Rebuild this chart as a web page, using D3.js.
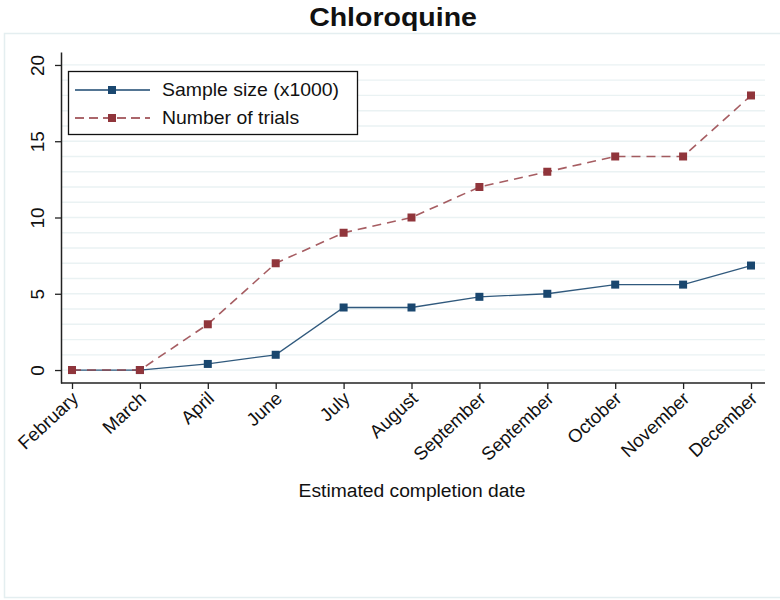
<!DOCTYPE html>
<html>
<head>
<meta charset="utf-8">
<script src="https://cdn.jsdelivr.net/npm/d3@7"></script>
<style>
  body { margin: 0; background: #fff; }
  text { font-family: "Liberation Sans", Arial, sans-serif; fill: #111; }
</style>
</head>
<body>
<div id="chart"></div>
<script>
// chart data
var months = ['February','March','April','June','July','August','September','September','October','November','December'];
var sampleSize = [0, 0, 0.4, 1.0, 4.1, 4.1, 4.8, 5.0, 5.6, 5.6, 6.85];
var numTrials = [0, 0, 3, 7, 9, 10, 12, 13, 14, 14, 18];
var yTicks = [0, 5, 10, 15, 20];
var yGrid = d3.range(0, 21);

var width = 780, height = 600;
var navy = '#1a476f', maroon = '#90353b';

var svg = d3.select('#chart').append('svg')
	.attr('width', width)
	.attr('height', height);

// graph region border
svg.append('rect')
	.attr('x', 4.5).attr('y', 33.5)
	.attr('width', 790).attr('height', 564)
	.attr('fill', 'none')
	.attr('stroke', '#e4eef0')
	.attr('stroke-width', 1.5);

// stretched text helper (the original looks slightly wide)
function wideText(x, y, str, size, sx, weight) {
	var g = svg.append('g').attr('transform', 'translate(' + x + ',' + y + ') scale(' + sx + ',1)');
	g.append('text')
		.attr('text-anchor', 'middle')
		.style('font-size', size + 'px')
		.style('font-weight', weight || 'normal')
		.text(str);
	return g;
}

wideText(393, 26, 'Chloroquine', 25, 1.14, 'bold');

var xScale = d3.scalePoint().domain(d3.range(months.length)).range([72, 751]);
var yScale = d3.scaleLinear().domain([-0.85, 20.85]).range([383, 52]);

// gridlines
svg.append('g').selectAll('line')
	.data(yGrid)
	.enter().append('line')
		.attr('x1', 62).attr('x2', 765)
		.attr('y1', function(d) { return yScale(d); })
		.attr('y2', function(d) { return yScale(d); })
		.attr('stroke', '#eaf2f3')
		.attr('stroke-width', 1.3);

// y axis
var yAxis = d3.axisLeft(yScale).tickValues(yTicks).tickSize(6).tickPadding(4).tickSizeOuter(0);
var gy = svg.append('g')
	.attr('transform', 'translate(61,0)')
	.call(yAxis);
gy.select('.domain').attr('stroke', '#222').attr('stroke-width', 1.5);
gy.selectAll('.tick line').attr('stroke', '#222').attr('stroke-width', 1.3);
gy.selectAll('.tick text')
	.attr('x', null).attr('dy', null)
	.attr('text-anchor', 'middle')
	.attr('transform', 'translate(-17,0) rotate(-90)')
	.style('font-size', '19px')
	.style('font-family', '"Liberation Sans", Arial, sans-serif')
	.attr('fill', '#222');

// x axis
svg.append('line')
	.attr('x1', 61).attr('x2', 765)
	.attr('y1', 383).attr('y2', 383)
	.attr('stroke', '#222').attr('stroke-width', 1.5);
var xAxis = d3.axisBottom(xScale).tickSize(6).tickSizeOuter(0)
	.tickFormat(function(i) { return months[i]; });
var gx = svg.append('g')
	.attr('transform', 'translate(0,383)')
	.call(xAxis);
gx.select('.domain').remove();
gx.selectAll('.tick line').attr('stroke', '#222').attr('stroke-width', 1.3);
gx.selectAll('.tick text')
	.attr('y', null).attr('dy', null)
	.attr('text-anchor', 'end')
	.attr('transform', 'translate(7,17) rotate(-43)')
	.style('font-size', '18.5px')
	.style('font-family', '"Liberation Sans", Arial, sans-serif')
	.attr('fill', '#222');

wideText(412, 497, 'Estimated completion date', 18, 1.07);

// series
var series = [
	{ name: 'Sample size (x1000)', values: sampleSize, color: navy, dash: null, width: 1.3 },
	{ name: 'Number of trials', values: numTrials, color: maroon, dash: '9,6', width: 1.6 }
];

var line = d3.line()
	.x(function(d, i) { return xScale(i); })
	.y(function(d) { return yScale(d); });

series.forEach(function(s) {
	svg.append('path')
		.datum(s.values)
		.attr('d', line)
		.attr('fill', 'none')
		.attr('stroke', s.color)
		.attr('stroke-opacity', s.dash ? 0.8 : 0.9)
		.attr('stroke-width', s.width)
		.attr('stroke-dasharray', s.dash);
});
// draw markers after both lines, red on top at shared points
series.forEach(function(s) {
	svg.append('g').selectAll('rect')
		.data(s.values)
		.enter().append('rect')
			.attr('x', function(d, i) { return xScale(i) - 4; })
			.attr('y', function(d) { return yScale(d) - 4; })
			.attr('width', 8).attr('height', 8)
			.attr('fill', s.color);
});

// legend
var legend = svg.append('g').attr('transform', 'translate(68,71)');
legend.append('rect')
	.attr('x', 0.5).attr('y', 0.5)
	.attr('width', 289).attr('height', 63)
	.attr('fill', '#fff')
	.attr('stroke', '#111')
	.attr('stroke-width', 1.3);
var items = legend.selectAll('.item')
	.data(series)
	.enter().append('g')
		.attr('class', 'item')
		.attr('transform', function(d, i) { return 'translate(0,' + (19 + i * 28) + ')'; });
items.append('line')
	.attr('x1', 7).attr('x2', 82)
	.attr('stroke', function(d) { return d.color; })
	.attr('stroke-width', function(d) { return d.width; })
	.attr('stroke-dasharray', function(d) { return d.dash ? '9,5' : null; });
items.append('rect')
	.attr('x', 40).attr('y', -4)
	.attr('width', 8).attr('height', 8)
	.attr('fill', function(d) { return d.color; });
items.append('text')
	.attr('transform', 'translate(94,0) scale(1.08,1)')
	.attr('dy', '0.36em')
	.style('font-size', '18px')
	.text(function(d) { return d.name; });
</script>
</body>
</html>
